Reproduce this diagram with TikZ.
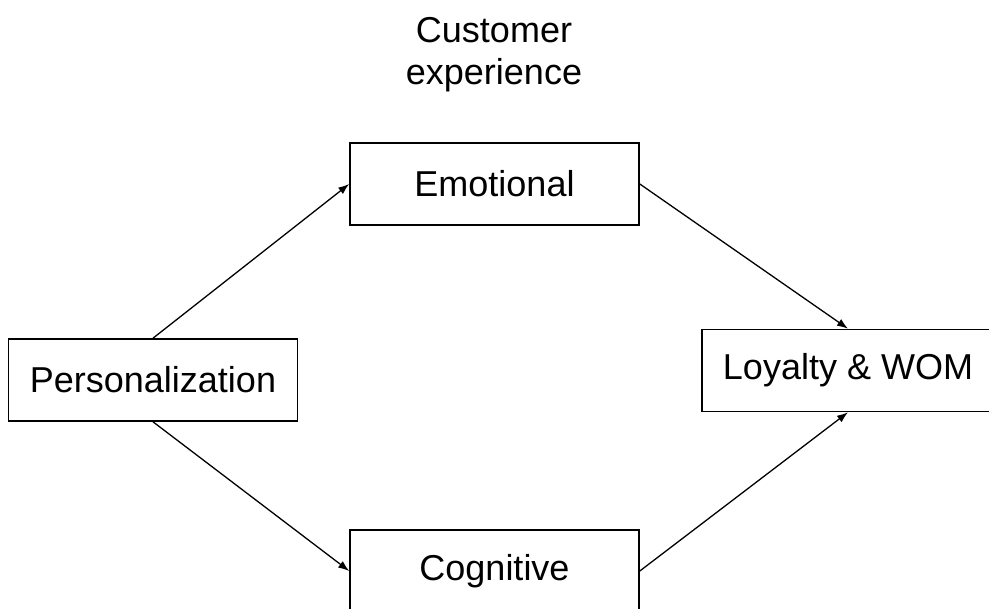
\documentclass[tikz,border=0pt]{standalone}
\usepackage{fontspec}
\setmainfont{Liberation Sans}
\usepackage{tikz}
\usetikzlibrary{arrows.meta}
\begin{document}
\begin{tikzpicture}[x=1pt, y=-1pt,
		block/.style={draw, line width=1.6pt, minimum width=289pt, minimum height=82pt,
			inner sep=0pt, font=\fontsize{36}{42}\selectfont},
		link/.style={-{Latex[length=11pt, width=8pt]}, line width=1.3pt}]
		\useasboundingbox (0,0) rectangle (989,609);
		\node[font=\fontsize{36}{42}\selectfont, align=center] (cx) at (494,55) {Customer\\experience};
		\node[block] (pers) at (153,380) {Personalization};
		\node[block] (emo) at (494.5,184) {Emotional};
		\node[block] (cog) at (494.5,571) {Cognitive};
		\node[block, minimum width=292pt] (loy) at (848,370.5) {Loyalty \& WOM};
		% arrows
		\draw[link] (pers.north) -- (emo.west);
		\draw[link] (pers.south) -- (cog.west);
		\draw[link] (emo.east) -- (loy.north);
		\draw[link] (cog.east) -- (loy.south);
	\end{tikzpicture}
\end{document}
